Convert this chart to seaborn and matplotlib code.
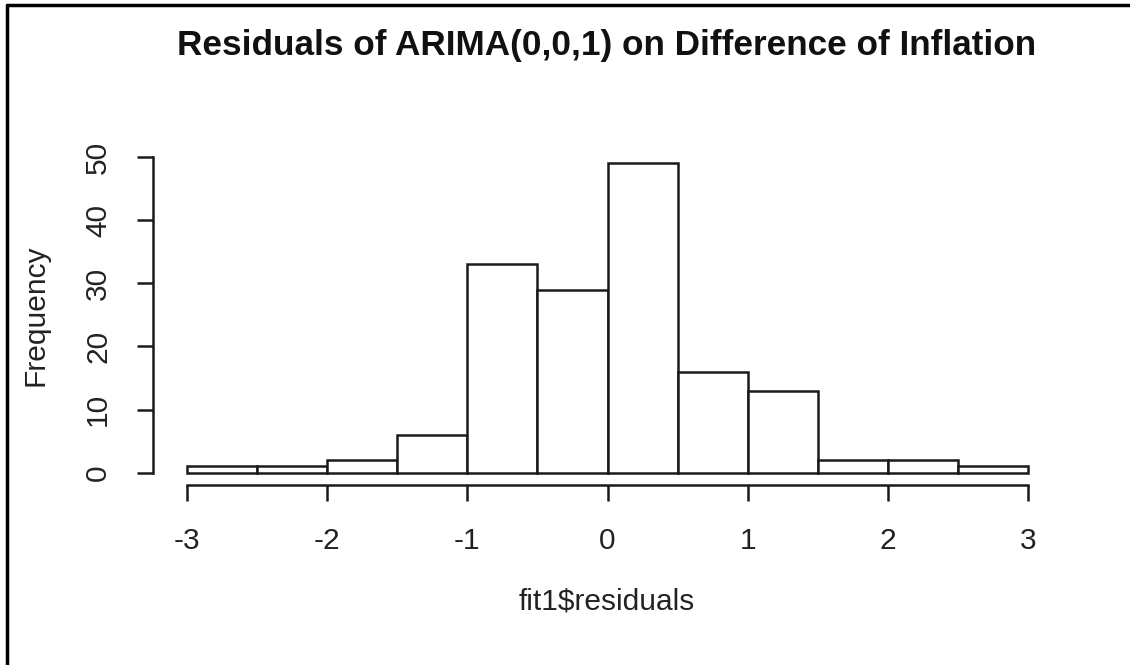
import numpy as np
import matplotlib
matplotlib.use("Agg")
import matplotlib.pyplot as plt
from matplotlib.lines import Line2D
import seaborn as sns

# Data
bin_edges = [-3.0, -2.5, -2.0, -1.5, -1.0, -0.5, 0.0, 0.5, 1.0, 1.5, 2.0, 2.5, 3.0]
counts = [1, 1, 2, 6, 33, 29, 49, 16, 13, 2, 2, 1]
x_ticks = [-3, -2, -1, 0, 1, 2, 3]
y_ticks = [0, 10, 20, 30, 40, 50]
title = "Residuals of ARIMA(0,0,1) on Difference of Inflation"
xlabel = "fit1$residuals"
ylabel = "Frequency"

sns.set_style("white")
plt.rcParams['font.family'] = ['Liberation Sans', 'DejaVu Sans']

centers = [(a + b) / 2 for a, b in zip(bin_edges[:-1], bin_edges[1:])]

fig = plt.figure(figsize=(11.3, 6.65), dpi=100)
ax = fig.add_axes([153 / 1130, 1 - 485 / 665, (1062 - 153) / 1130, (485 - 151) / 665])

sns.histplot(x=centers, weights=counts, bins=bin_edges, ax=ax,
             color="white", edgecolor="#1a1a1a", linewidth=1.8, alpha=1)

ax.set_xlim(-3.24, 3.24)
ax.set_ylim(-1.96, 50.96)
ax.set_xticks(x_ticks)
ax.set_yticks(y_ticks)
ax.set_xticklabels([str(v) for v in x_ticks])
ax.set_yticklabels([str(v) for v in y_ticks], rotation=90, va="center")

for s in ["top", "right"]:
    ax.spines[s].set_visible(False)
ax.spines["left"].set_bounds(0, 50)
ax.spines["bottom"].set_bounds(-3, 3)
for s in ["left", "bottom"]:
    ax.spines[s].set_linewidth(1.8)
    ax.spines[s].set_color("#1a1a1a")

ax.tick_params(axis="both", which="major", bottom=True, left=True,
               direction="out", length=11.5, width=1.8,
               color="#1a1a1a", labelsize=21.5, labelcolor="#222222")
ax.tick_params(axis="x", pad=19)
ax.tick_params(axis="y", pad=18)
ax.set_xlabel("")
ax.set_ylabel("")

fig.text(607 / 1130, 1 - 45 / 665, title, ha="center", va="center",
         fontsize=25.3, fontweight="bold", color="#111111")
fig.text(607 / 1130, 1 - 601 / 665, xlabel.replace("$", r"\$"), ha="center", va="center",
         fontsize=21.5, color="#222222")
fig.text(36 / 1130, 1 - 315 / 665, ylabel, ha="center", va="center",
         fontsize=21.5, color="#222222", rotation=90)

# outer frame (left and top edges visible in the reference)
fig.add_artist(Line2D([7 / 1130, 7 / 1130], [0, 1 - 5 / 665], transform=fig.transFigure,
                      color="black", linewidth=2.5))
fig.add_artist(Line2D([7 / 1130, 1], [1 - 5 / 665, 1 - 5 / 665], transform=fig.transFigure,
                      color="black", linewidth=2.5))

fig.savefig("out.png", dpi=100, facecolor="white")
